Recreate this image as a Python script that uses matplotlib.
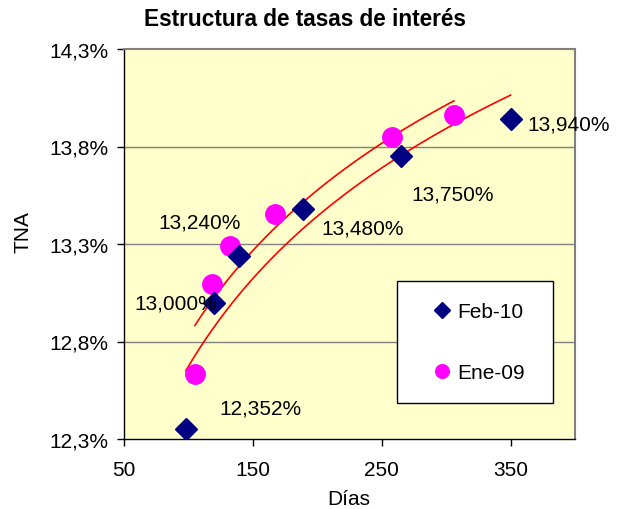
import numpy as np
import matplotlib
matplotlib.use("Agg")
import matplotlib.pyplot as plt
from matplotlib.ticker import FuncFormatter, FixedLocator

plt.rcParams['font.family'] = ['Liberation Sans', 'DejaVu Sans']

# Data
feb_dias = [98, 120, 139, 189, 265, 350]
feb_tna = [12.352, 13.000, 13.240, 13.480, 13.750, 13.940]
ene_dias = [105, 118, 132, 167, 258, 306]
ene_tna = [12.635, 13.097, 13.292, 13.452, 13.848, 13.961]
series_names = ["Feb-10", "Ene-09"]
title = "Estructura de tasas de interés"
xlabel = "Días"
ylabel = "TNA"
xticks = [50, 150, 250, 350]
yticks = [12.3, 12.8, 13.3, 13.8, 14.3]
# label offsets (pixels) for Feb-10 data labels
label_offsets = [(75, 21), (-38, 0), (-39, 34), (60, -19), (52, -38), (58, -5)]

fig = plt.figure(figsize=(6.27, 5.10), dpi=100)
ax = fig.add_axes([124/627, 70/510, 451/627, 390/510])
ax.set_facecolor('#FFFFCC')
ax.set_xlim(50, 400)
ax.set_ylim(12.3, 14.3)

for y in yticks[1:-1]:
    ax.axhline(y, color='#808080', lw=1.0, zorder=1)

# Log trend lines
for xs, ys in [(ene_dias, ene_tna), (feb_dias, feb_tna)]:
    b, a = np.polyfit(np.log(xs), ys, 1)
    xx = np.linspace(min(xs), max(xs), 200)
    ax.plot(xx, a + b*np.log(xx), color='#FF0000', lw=1.2, zorder=2)

ax.plot(feb_dias, feb_tna, linestyle='none', marker='D', markersize=11,
        color='#000080', zorder=4, label=series_names[0])
ax.plot(ene_dias, ene_tna, linestyle='none', marker='o', markersize=14,
        color='#FF00FF', zorder=3, label=series_names[1])

for x, y, (dx, dy) in zip(feb_dias, feb_tna, label_offsets):
    ax.annotate(f"{y:.3f}%".replace('.', ','), (x, y), xytext=(dx, dy),
                textcoords='offset pixels', ha='center', va='center',
                fontsize=15, color='black', zorder=5, annotation_clip=False)

ax.xaxis.set_major_locator(FixedLocator(xticks))
ax.yaxis.set_major_locator(FixedLocator(yticks))
ax.yaxis.set_major_formatter(FuncFormatter(lambda v, p: f"{v:.1f}%".replace('.', ',')))
ax.tick_params(axis='both', direction='out', length=5, width=1, labelsize=15, color='black')
ax.tick_params(axis='x', pad=10)
ax.tick_params(axis='y', pad=6)

for s in ['top', 'right']:
    ax.spines[s].set_color('#808080')
    ax.spines[s].set_linewidth(1.5)
for s in ['left', 'bottom']:
    ax.spines[s].set_color('black')
    ax.spines[s].set_linewidth(1.0)

fig.text(349/627, 1 - 500/510, xlabel, ha='center', va='center', fontsize=15)
fig.text(23/627, 1 - 232/510, ylabel, ha='center', va='center', fontsize=15, rotation=90)
fig.text(305/627, 1 - 20/510, title, ha='center', va='center', fontsize=16.3, fontweight='bold')

leg = ax.legend(loc='center', bbox_to_anchor=(0.605, 0.092, 0.346, 0.313),
                mode='expand', borderaxespad=0,
                fontsize=15, frameon=True, fancybox=False, edgecolor='black',
                framealpha=1, labelspacing=2.0, borderpad=1.0, handlelength=2.3,
                handletextpad=-0.4, markerscale=0.7)
leg.get_frame().set_linewidth(1.0)

fig.savefig('out.png', dpi=100)
